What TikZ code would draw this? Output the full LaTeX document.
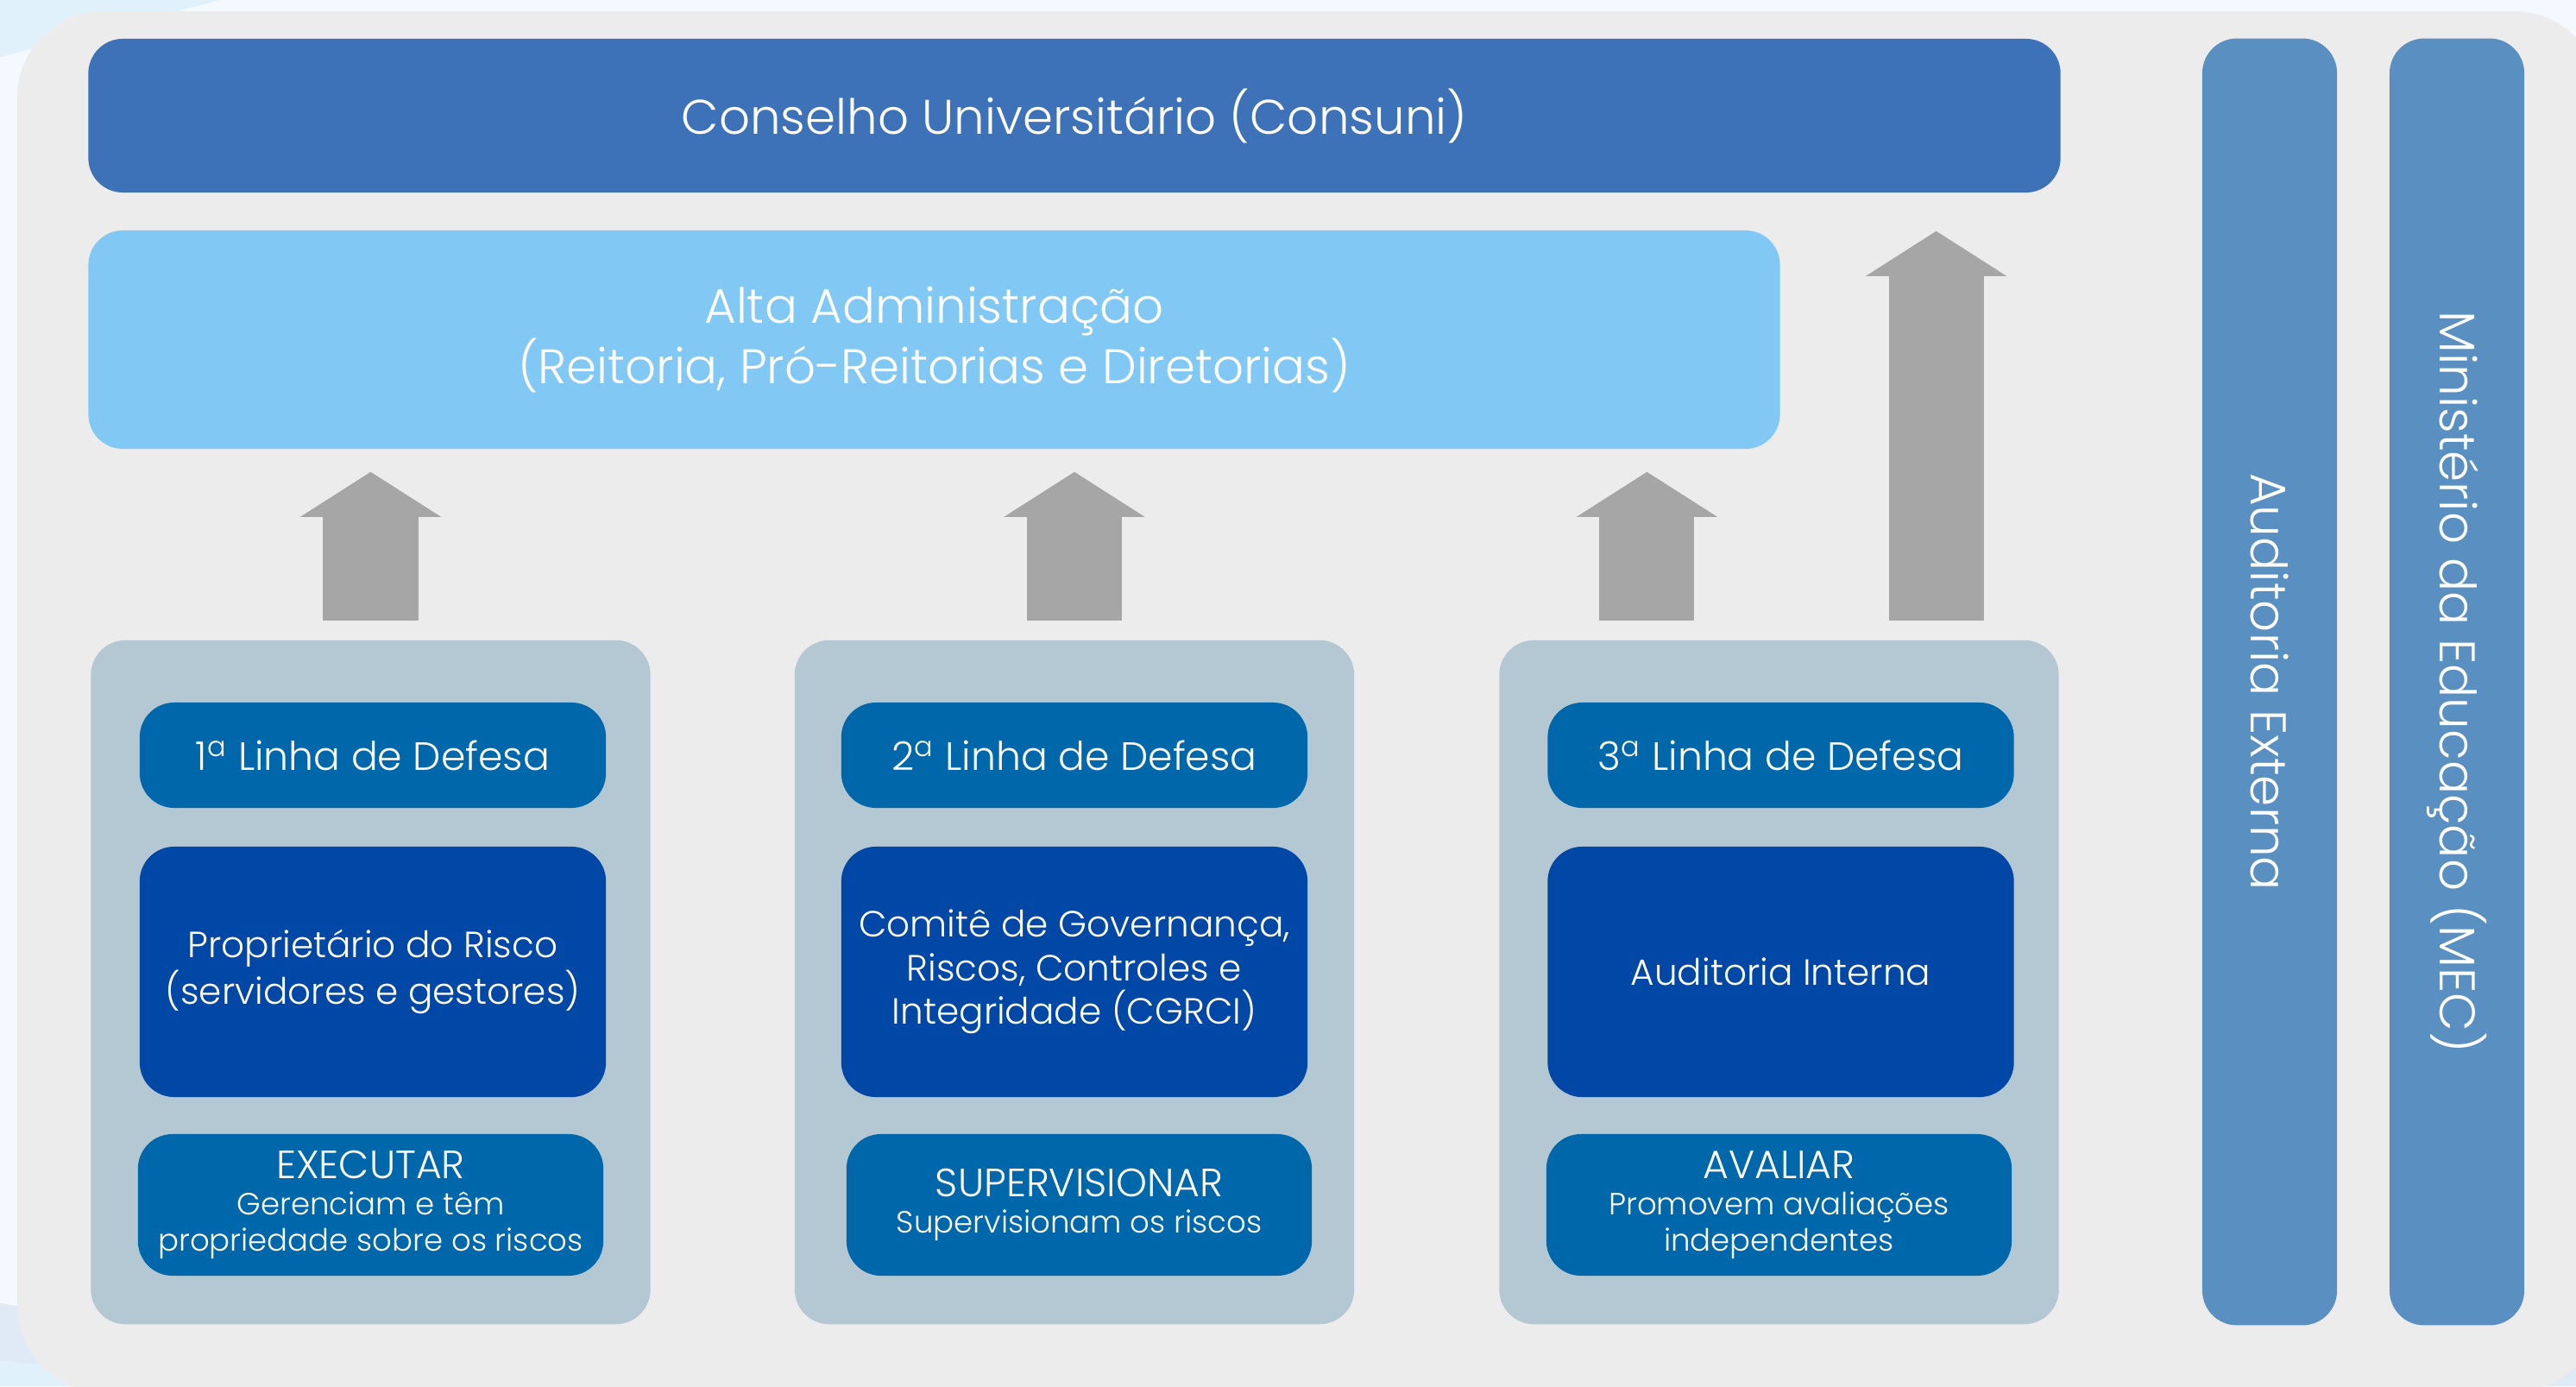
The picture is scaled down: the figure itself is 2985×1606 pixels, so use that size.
\documentclass[tikz,border=0pt]{standalone}
\usepackage{fontspec}
\IfFontExistsTF{Poppins Light}{\setmainfont{Poppins Light}}{\setmainfont{Poppins}}
\usetikzlibrary{arrows.meta}

\definecolor{bgblue}{HTML}{F3F9FE}
\definecolor{swoosh}{HTML}{E0F1FB}
\definecolor{lavender}{HTML}{E0E9F6}
\definecolor{panelgrey}{HTML}{ECECEC}
\definecolor{consuniblue}{HTML}{3E72B8}
\definecolor{altablue}{HTML}{82C8F4}
\definecolor{colblue}{HTML}{5A8FC1}
\definecolor{arrowgrey}{HTML}{A6A6A6}
\definecolor{panelblue}{HTML}{B4C8D4}
\definecolor{linhablue}{HTML}{0068AA}
\definecolor{roleblue}{HTML}{0047A6}

\newcommand\bigtxt{\fontsize{16}{17.2}\selectfont}
\newcommand\linhatxt{\fontsize{13}{14.3}\selectfont}
\newcommand\midtxt{\fontsize{12}{14.3}\selectfont}
\newcommand\acttitle{\fontsize{13}{12}\selectfont}

\tikzset{
	box/.style={rectangle, rounded corners=0.4cm, text=white, align=center, inner sep=0pt},
	topbar/.style={box, fill=consuniblue, minimum width=22.84cm, minimum height=1.78cm, font=\bigtxt},
	altabox/.style={box, fill=altablue, minimum width=19.59cm, minimum height=2.53cm, font=\bigtxt},
	colbox/.style={box, fill=colblue, minimum width=14.9cm, minimum height=1.56cm, font=\fontsize{16.5}{18}\selectfont},
	linepanel/.style={box, fill=panelblue, minimum width=6.48cm, minimum height=7.92cm},
	linhabox/.style={box, fill=linhablue, minimum width=5.4cm, minimum height=1.22cm, font=\linhatxt},
	rolebox/.style={box, fill=roleblue, minimum width=5.4cm, minimum height=2.9cm, font=\midtxt},
	actbox/.style={box, fill=linhablue, minimum width=5.39cm, minimum height=1.64cm, font=\fontsize{10.1}{12}\selectfont},
	uparrow/.style={draw=arrowgrey, line width=1.1cm, line cap=butt, shorten <=0.22cm, shorten >=0.26cm,
		-{Triangle[width=1.63cm, length=0.52cm, line width=0pt]}}
}

\begin{document}
\begin{tikzpicture}[x=0.01cm, y=-0.01cm]
	\useasboundingbox (0,0) rectangle (2985,1606);
	\fill[bgblue] (0,0) rectangle (2985,1606);
	\fill[swoosh] (0,0) -- (255,0) -- (0,66) -- cycle;
	\fill[lavender] (0,1510) .. controls (200,1540) and (400,1580) .. (600,1606) -- (0,1606) -- cycle;
	\fill[swoosh] (0,1577) -- (320,1600) -- (320,1606) -- (0,1606) -- cycle;
	\fill[lavender] (2985,1540) -- (2985,1606) -- (2880,1606) -- cycle;
	\fill[panelgrey, rounded corners=1cm] (20,13) rectangle (3013,1613);

	\node[topbar] (consuni) at (1245,134) {Conselho Universitário (Consuni)};
	\node[altabox] (alta) at (1082.5,393.5) {Alta Administração\\(Reitoria, Pró-Reitorias e Diretorias)};
	\node[colbox, rotate=-90] (audext) at (2630,790) {Auditoria Externa};
	\node[colbox, rotate=-90] (mec) at (2847,790) {Ministério da Educação (MEC)};

	\node[linepanel] (p1) at (429.5,1138) {};
	\node[linepanel] (p2) at (1245,1138) {};
	\node[linepanel] (p3) at (2061.5,1138) {};

	\node[linhabox] (linha1) at (432,875) {1\textsuperscript{a} Linha de Defesa};
	\node[rolebox] (dono) at (432,1126) {Proprietário do Risco\\(servidores e gestores)};
	\node[actbox] (executar) at (429.5,1396) {{\acttitle EXECUTAR}\\Gerenciam e têm\\propriedade sobre os riscos};

	\node[linhabox] (linha2) at (1245,875) {2\textsuperscript{a} Linha de Defesa};
	\node[rolebox] (cgrci) at (1245,1126) {Comitê de Governança,\\Riscos, Controles e\\Integridade (CGRCI)};
	\node[actbox] (supervisionar) at (1250.5,1396) {{\acttitle SUPERVISIONAR}\\Supervisionam os riscos};

	\node[linhabox] (linha3) at (2063.5,875) {3\textsuperscript{a} Linha de Defesa};
	\node[rolebox] (audint) at (2063.5,1126) {Auditoria Interna};
	\node[actbox] (avaliar) at (2061.5,1396) {{\acttitle AVALIAR}\\Promovem avaliações\\independentes};

	\draw[uparrow] (p1.north) -- (p1.north |- alta.south);
	\draw[uparrow] (p2.north) -- (p2.north |- alta.south);
	\draw[uparrow] ([xshift=-1.53cm]p3.north) -- ([xshift=-1.53cm]p3.north |- alta.south);
	\draw[uparrow, shorten >=0.44cm] ([xshift=1.82cm]p3.north) -- ([xshift=1.82cm]p3.north |- consuni.south);
\end{tikzpicture}
\end{document}
